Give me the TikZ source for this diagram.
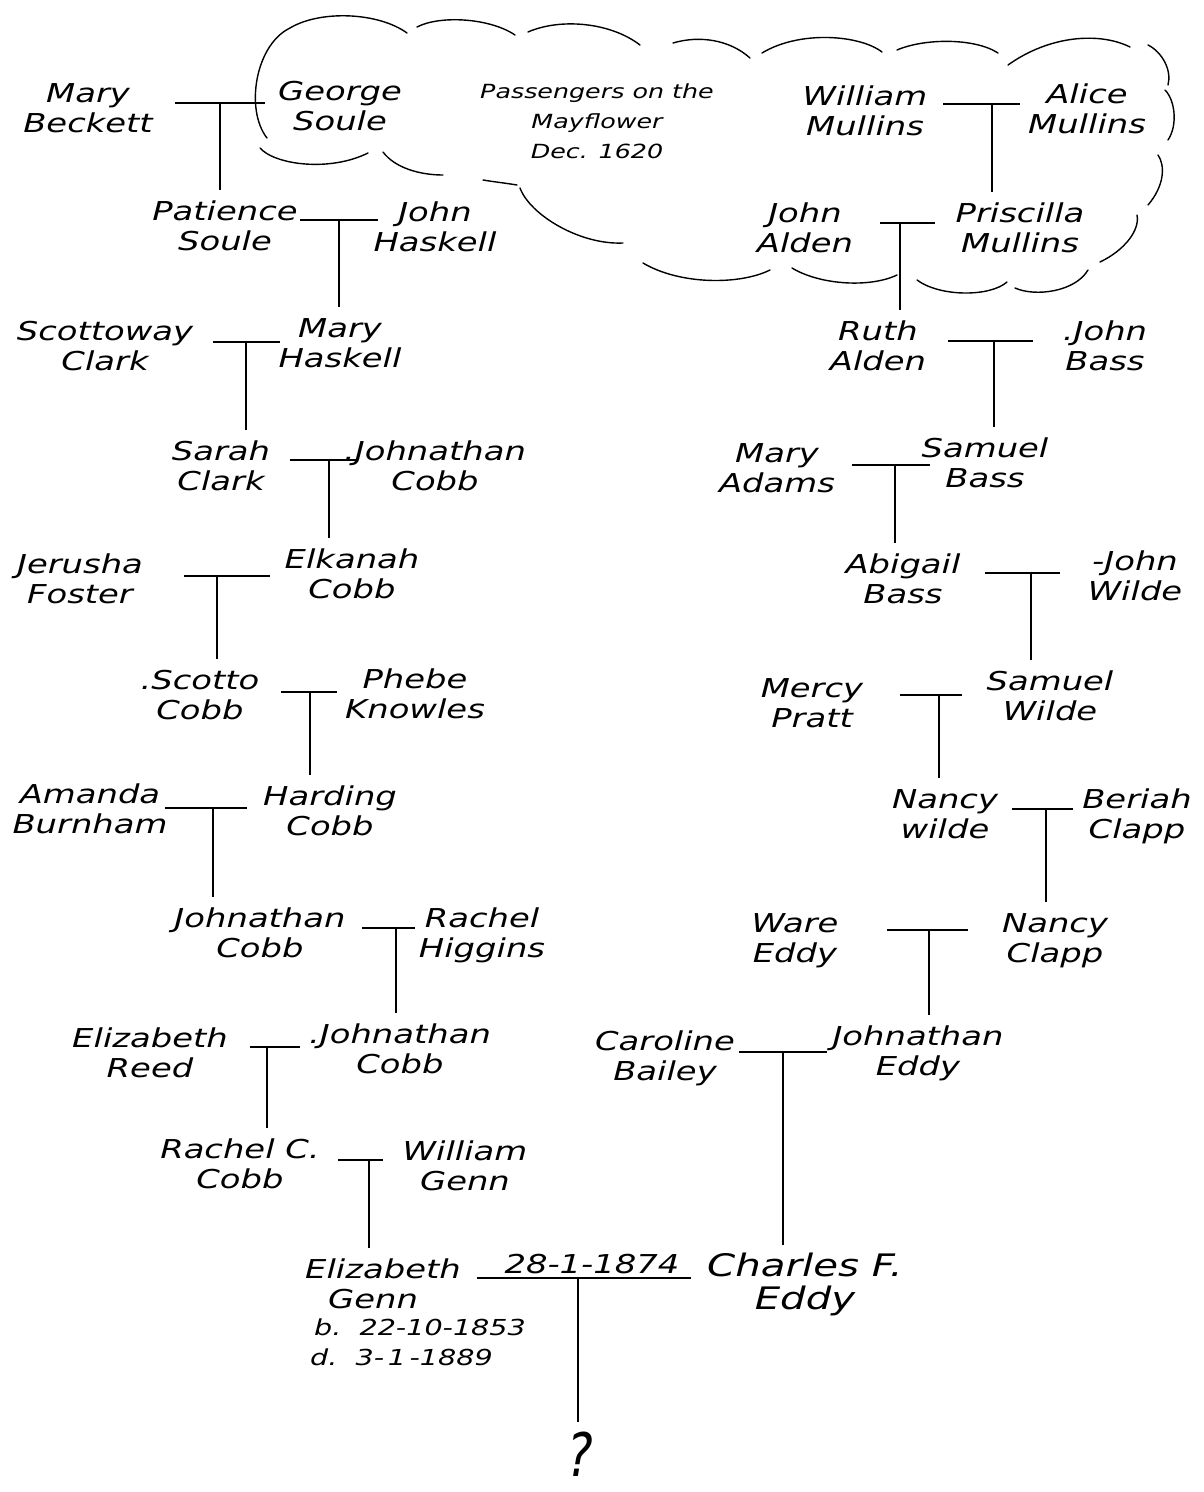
\documentclass[tikz,border=0pt]{standalone}
\usepackage{fontspec}
\setmainfont{DejaVu Sans}[FakeStretch=1.3]
\newcommand\hand{\fontsize{26}{30}\selectfont\itshape}
\newcommand\hs{\rule[-7pt]{0pt}{29pt}}
\newcommand\pp[2]{\hs #1\\\hs #2}
\newcommand\famlink[6]{%
  \coordinate (#1l) at (#2,#5);
  \coordinate (#1r) at (#3,#5);
  \coordinate (#1) at (#4,#5);
  \draw[bar] (#1l) -- (#1r);
  \draw[bar] (#1) -- (#1 |- #6.north);}
\begin{document}
\begin{tikzpicture}[x=1pt,y=-1pt,
  person/.style={font=\hand, align=center, inner xsep=0pt, inner ysep=8pt, anchor=north},
  bar/.style={line width=1.7pt, black},
  cloudline/.style={line width=1.4pt, black, line cap=round}]
\fill[white] (0,0) rectangle (1203,1492);
\useasboundingbox (0,0) rectangle (1203,1492);

% ---------- cloud ----------
\draw[cloudline] (267,138) .. controls (245,110) and (255,45) .. (290,28) .. controls (320,10) and (378,12) .. (407,33);
\draw[cloudline] (417,27) .. controls (440,15) and (490,18) .. (515,35);
\draw[cloudline] (528,32) .. controls (560,18) and (610,22) .. (640,45);
\draw[cloudline] (673,43) .. controls (700,35) and (730,40) .. (750,58);
\draw[cloudline] (762,53) .. controls (800,30) and (860,35) .. (882,52);
\draw[cloudline] (897,50) .. controls (925,38) and (975,38) .. (998,53);
\draw[cloudline] (1008,65) .. controls (1050,35) and (1100,32) .. (1130,47);
\draw[cloudline] (1148,45) .. controls (1162,52) and (1172,70) .. (1168,85);
\draw[cloudline] (1165,90) .. controls (1175,100) and (1178,125) .. (1168,140);
\draw[cloudline] (1158,155) .. controls (1165,165) and (1165,185) .. (1148,205);
\draw[cloudline] (1137,215) .. controls (1140,230) and (1125,250) .. (1100,262);
\draw[cloudline] (1088,270) .. controls (1075,292) and (1035,297) .. (1015,288);
\draw[cloudline] (1007,282) .. controls (990,297) and (940,297) .. (917,280);
\draw[cloudline] (897,275) .. controls (870,288) and (820,285) .. (792,268);
\draw[cloudline] (770,270) .. controls (740,285) and (680,285) .. (643,263);
\draw[cloudline] (623,243) .. controls (580,245) and (530,215) .. (520,188);
\draw[cloudline] (517,185) .. controls (505,183) and (495,182) .. (483,180);
\draw[cloudline] (443,175) .. controls (420,175) and (395,168) .. (383,152);
\draw[cloudline] (368,153) .. controls (330,172) and (275,165) .. (260,148);

% ---------- people ----------
\node[person] (marybeckett) at (88,72) {\pp{Mary}{Beckett}};
\node[person] (georgesoule) at (340,70) {\pp{George}{Soule}};
\node[person, font=\fontsize{19.5}{30}\selectfont\itshape] (passengers) at (597,68)
  {\hs Passengers on the\\\hs Mayflower\\\hs Dec. 1620};
\node[person] (williammullins) at (865,75) {\pp{William}{Mullins}};
\node[person] (alicemullins) at (1087,73) {\pp{Alice}{Mullins}};
\node[person] (patiencesoule) at (225,190) {\pp{Patience}{Soule}};
\node[person] (johnhaskell) at (435,191) {\pp{John}{Haskell}};
\node[person] (johnalden) at (805,192) {\pp{John}{Alden}};
\node[person] (priscillamullins) at (1020,192) {\pp{Priscilla}{Mullins}};
\node[person] (scottowayclark) at (105,310) {\pp{Scottoway}{Clark}};
\node[person] (maryhaskell) at (340,307) {\pp{Mary}{Haskell}};
\node[person] (ruthalden) at (878,310) {\pp{Ruth}{Alden}};
\node[person] (johnbass) at (1105,310) {\pp{.John}{Bass}};
\node[person] (sarahclark) at (221,430) {\pp{Sarah}{Clark}};
\node[person] (johnathancobbA) at (435,430) {\pp{.Johnathan}{Cobb}};
\node[person] (maryadams) at (777,432) {\pp{Mary}{Adams}};
\node[person] (samuelbass) at (985,427) {\pp{Samuel}{Bass}};
\node[person] (jerushafoster) at (80,543) {\pp{Jerusha}{Foster}};
\node[person] (elkanahcobb) at (352,538) {\pp{Elkanah}{Cobb}};
\node[person] (abigailbass) at (903,543) {\pp{Abigail}{Bass}};
\node[person] (johnwilde) at (1135,540) {\pp{-John}{Wilde}};
\node[person] (scottocobb) at (200,659) {\pp{.Scotto}{Cobb}};
\node[person] (phebeknowles) at (415,658) {\pp{Phebe}{Knowles}};
\node[person] (mercypratt) at (812,667) {\pp{Mercy}{Pratt}};
\node[person] (samuelwilde) at (1050,660) {\pp{Samuel}{Wilde}};
\node[person] (amandaburnham) at (90,773) {\pp{Amanda}{Burnham}};
\node[person] (hardingcobb) at (330,775) {\pp{Harding}{Cobb}};
\node[person] (nancywilde) at (945,778) {\pp{Nancy}{wilde}};
\node[person] (beriahclapp) at (1137,778) {\pp{Beriah}{Clapp}};
\node[person] (johnathancobbB) at (260,897) {\pp{Johnathan}{Cobb}};
\node[person] (rachelhiggins) at (482,897) {\pp{Rachel}{Higgins}};
\node[person] (wareeddy) at (795,902) {\pp{Ware}{Eddy}};
\node[person] (nancyclapp) at (1055,902) {\pp{Nancy}{Clapp}};
\node[person] (elizabethreed) at (150,1017) {\pp{Elizabeth}{Reed}};
\node[person] (johnathancobbC) at (400,1013) {\pp{.Johnathan}{Cobb}};
\node[person] (carolinebailey) at (665,1020) {\pp{Caroline}{Bailey}};
\node[person] (johnathaneddy) at (918,1015) {\pp{Johnathan}{Eddy}};
\node[person] (rachelccobb) at (240,1128) {\pp{Rachel C.}{Cobb}};
\node[person] (williamgenn) at (465,1130) {\pp{William}{Genn}};
\node[person, align=left, anchor=north west] (elizabethgenn) at (305,1248)
  {\hs Elizabeth\\\hs\hspace*{23pt}Genn\\[-3pt]
   \hs\hspace*{9pt}{\fontsize{22}{30}\selectfont b.\ \ 22-10-1853}\\
   \hs\hspace*{5pt}{\fontsize{22}{30}\selectfont d.\ \ 3-\,1\,-1889}};
\node[font=\hand, anchor=base, inner sep=0pt] (marriagedate) at (592,1273) {28-1-1874};
\node[person, font=\fontsize{31}{33}\selectfont\itshape] (charleseddy) at (805,1245) {\pp{Charles F.}{Eddy}};
\node[font=\fontsize{60}{60}\selectfont\itshape, anchor=base, inner sep=0pt] (question) at (580,1476)
  {\rule{0pt}{54pt}\scalebox{0.62}[1]{?}};

% ---------- family links ----------
\famlink{uA}{175}{265}{220}{103}{patiencesoule}
\famlink{uB}{943}{1020}{992}{104}{priscillamullins}
\famlink{uC}{300}{378}{339}{220}{maryhaskell}
\famlink{uD}{880}{935}{900}{223}{ruthalden}
\famlink{uE}{213}{280}{246}{342}{sarahclark}
\famlink{uF}{948}{1033}{994}{341}{samuelbass}
\famlink{uG}{290}{358}{329}{460}{elkanahcobb}
\famlink{uH}{852}{930}{895}{465}{abigailbass}
\famlink{uI}{184}{270}{217}{576}{scottocobb}
\famlink{uJ}{985}{1060}{1031}{573}{samuelwilde}
\famlink{uK}{281}{337}{310}{692}{hardingcobb}
\famlink{uL}{900}{962}{939}{695}{nancywilde}
\famlink{uM}{165}{247}{213}{808}{johnathancobbB}
\famlink{uN}{1012}{1073}{1046}{809}{nancyclapp}
\famlink{uO}{362}{415}{396}{928}{johnathancobbC}
\famlink{uP}{887}{968}{929}{930}{johnathaneddy}
\famlink{uQ}{250}{300}{267}{1047}{rachelccobb}
\famlink{uR}{739}{827}{783}{1052}{charleseddy}
\famlink{uS}{338}{383}{369}{1160}{elizabethgenn}
\famlink{uT}{477}{691}{578}{1278}{question}
\end{tikzpicture}
\end{document}
